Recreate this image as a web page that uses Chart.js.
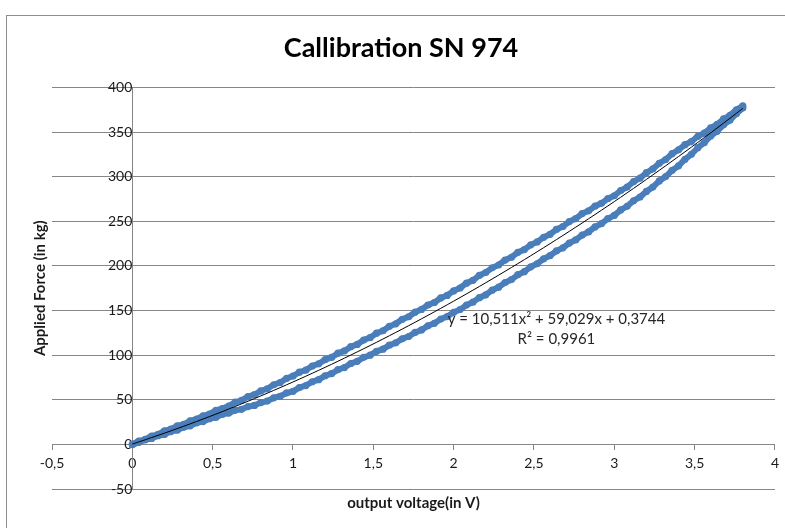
<!DOCTYPE html>
<html>
<head>
<meta charset="utf-8">
<title>Callibration SN 974</title>
<script src="https://cdn.jsdelivr.net/npm/chart.js@4.4.1/dist/chart.umd.min.js"></script>
<style>
  html, body { margin: 0; padding: 0; background: #fff; }
  .wrap { position: relative; width: 785px; height: 528px; overflow: hidden; }
  .frame { position: absolute; left: 6px; top: 15px; width: 820px; height: 560px; border: 1px solid #8e8e8e; }
  #calChart { position: absolute; left: 0; top: 0; }
</style>
</head>
<body>
<div class="wrap">
  <div class="frame"></div>
  <canvas id="calChart" width="785" height="528"></canvas>
</div>
<script>
// output voltage (V), one reading per step of the sweep
const voltage = [
  0.00, 0.04, 0.08, 0.12, 0.16, 0.20, 0.24, 0.28, 0.32, 0.36,
  0.40, 0.44, 0.48, 0.52, 0.56, 0.60, 0.64, 0.68, 0.72, 0.76,
  0.80, 0.84, 0.88, 0.92, 0.96, 1.00, 1.04, 1.08, 1.12, 1.16,
  1.20, 1.24, 1.28, 1.32, 1.36, 1.40, 1.44, 1.48, 1.52, 1.56,
  1.60, 1.64, 1.68, 1.72, 1.76, 1.80, 1.84, 1.88, 1.92, 1.96,
  2.00, 2.04, 2.08, 2.12, 2.16, 2.20, 2.24, 2.28, 2.32, 2.36,
  2.40, 2.44, 2.48, 2.52, 2.56, 2.60, 2.64, 2.68, 2.72, 2.76,
  2.80, 2.84, 2.88, 2.92, 2.96, 3.00, 3.04, 3.08, 3.12, 3.16,
  3.20, 3.24, 3.28, 3.32, 3.36, 3.40, 3.44, 3.48, 3.52, 3.56,
  3.60, 3.64, 3.68, 3.72, 3.76, 3.80
];

// applied force (kg), upper branch of the loop
const forceLoading = [
  0.2, 3.6, 5.7, 9.3, 11.2, 15.1, 17.0, 20.8, 22.5, 26.3,
  28.2, 32.1, 34.0, 38.2, 40.1, 43.0, 47.3, 49.4, 53.6, 55.7,
  59.9, 62.3, 66.8, 69.2, 73.9, 76.5, 80.9, 83.2, 87.8, 90.3,
  94.9, 97.4, 102.2, 104.7, 109.5, 112.0, 116.9, 119.6, 124.6, 127.3,
  132.3, 135.1, 140.2, 143.0, 148.1, 151.2, 156.2, 159.0, 164.1, 166.9,
  172.0, 175.2, 180.6, 183.8, 189.3, 192.6, 197.9, 201.0, 206.5, 209.7,
  215.2, 218.3, 223.6, 226.8, 232.1, 235.4, 240.9, 244.1, 249.7, 253.0,
  258.6, 261.7, 266.9, 270.1, 275.3, 278.6, 284.5, 288.3, 294.4, 298.3,
  304.5, 308.6, 315.0, 319.2, 325.7, 330.0, 335.8, 339.3, 345.1, 348.7,
  354.6, 358.5, 364.7, 368.8, 374.9, 379.2
];

// applied force (kg), lower branch of the loop
const forceUnloading = [
  -0.3, 2.2, 5.1, 6.6, 9.7, 11.2, 14.4, 15.9, 19.1, 20.8,
  24.1, 25.5, 28.8, 30.2, 33.6, 35.1, 38.2, 39.3, 42.4, 43.6,
  46.8, 48.5, 52.2, 53.9, 57.6, 59.4, 63.6, 65.9, 70.2, 72.5,
  76.9, 79.2, 83.7, 86.1, 90.6, 93.1, 97.5, 99.9, 104.3, 106.7,
  111.2, 113.8, 118.3, 120.9, 125.5, 128.2, 132.9, 135.6, 140.4, 143.2,
  148.0, 151.0, 156.1, 159.3, 164.4, 167.6, 172.8, 176.1, 181.4, 184.7,
  190.1, 193.5, 198.9, 202.4, 207.9, 211.4, 216.8, 220.2, 225.6, 229.1,
  234.6, 238.1, 243.7, 247.3, 252.9, 256.6, 262.7, 266.8, 273.0, 277.2,
  283.4, 288.3, 295.2, 300.1, 307.1, 312.1, 319.5, 325.0, 332.5, 338.0,
  345.6, 350.8, 358.1, 363.3, 370.6, 377.0
];

// polynomial trendline y = a*x^2 + b*x + c and its fit quality
const trendCoef = [10.511, 59.029, 0.3744];
const rSquared = 0.9961;

// axis ranges and tick steps
const xRange = [-0.5, 4, 0.5];
const yRange = [-50, 400, 50];

const decimalComma = (v) => String(v).replace('.', ',');

const branch = (forces) => voltage.map((v, i) => ({ x: v, y: forces[i] }));

const [a, b, c] = trendCoef;
const trend = voltage.map((v) => ({ x: v, y: a * v * v + b * v + c }));

// equation text next to the trendline
const fitLabel = {
  id: 'fitLabel',
  afterDatasetsDraw(chart) {
    const { ctx, scales } = chart;
    const px = scales.x.getPixelForValue(2.64);
    const py = scales.y.getPixelForValue(140.5);
    ctx.save();
    ctx.font = '15px Lato';
    ctx.fillStyle = '#262626';
    ctx.textAlign = 'center';
    ctx.textBaseline = 'middle';
    ctx.fillText('y = ' + decimalComma(a) + 'x² + ' + decimalComma(b) + 'x + ' + decimalComma(c), px, py);
    ctx.fillText('R² = ' + decimalComma(rSquared), px, py + 20);
    ctx.restore();
  }
};

const markerStyle = {
  showLine: true,
  borderColor: '#4a7ebb',
  borderWidth: 6,
  borderCapStyle: 'round',
  backgroundColor: '#4a7ebb',
  pointBorderWidth: 0,
  pointRadius: 3.6,
  xAxisID: 'x',
  yAxisID: 'y'
};

Chart.defaults.font.family = 'Lato';
Chart.defaults.color = '#1a1a1a';

const ctx = document.getElementById('calChart').getContext('2d');

new Chart(ctx, {
  type: 'scatter',
  data: {
    datasets: [
      {
        label: 'Poly. trend',
        data: trend,
        showLine: true,
        borderColor: '#000000',
        borderWidth: 1,
        pointRadius: 0,
        xAxisID: 'x',
        yAxisID: 'y'
      },
      Object.assign({ label: 'Loading', data: branch(forceLoading) }, markerStyle),
      Object.assign({ label: 'Unloading', data: branch(forceUnloading) }, markerStyle)
    ]
  },
  options: {
    responsive: false,
    animation: false,
    events: [],
    layout: {
      padding: { left: 27, right: 10, top: 0, bottom: 12 }
    },
    scales: {
      x: {
        type: 'linear',
        position: { y: 0 },
        min: xRange[0],
        max: xRange[1],
        ticks: {
          stepSize: xRange[2],
          padding: 6,
          font: { size: 14 },
          callback: decimalComma
        },
        grid: { drawOnChartArea: false, drawTicks: true, tickLength: 5, color: '#868686' },
        border: { display: true, color: '#868686' }
      },
      y: {
        type: 'linear',
        position: { x: 0 },
        min: yRange[0],
        max: yRange[1],
        ticks: {
          stepSize: yRange[2],
          padding: 15,
          font: { size: 14 },
          callback: decimalComma
        },
        grid: { color: '#868686', drawTicks: false },
        border: { display: true, color: '#868686' }
      },
      xTitle: {
        type: 'linear',
        position: 'bottom',
        ticks: { display: false },
        grid: { display: false, drawTicks: false },
        border: { display: false },
        title: {
          display: true,
          text: 'output voltage(in V)',
          font: { size: 15, weight: 'bold' },
          padding: { top: 5, bottom: 4 }
        }
      },
      yTitle: {
        type: 'linear',
        position: 'left',
        ticks: { display: false },
        grid: { display: false, drawTicks: false },
        border: { display: false },
        title: {
          display: true,
          text: 'Applied Force (in kg)',
          font: { size: 15, weight: 'bold' },
          padding: { top: 4, bottom: 3 }
        }
      }
    },
    plugins: {
      legend: { display: false },
      tooltip: { enabled: false },
      title: {
        display: true,
        text: 'Callibration SN 974',
        color: '#000000',
        font: { size: 27, weight: 'bold' },
        padding: { top: 32, bottom: 23 }
      }
    }
  },
  plugins: [fitLabel]
});
</script>
</body>
</html>
